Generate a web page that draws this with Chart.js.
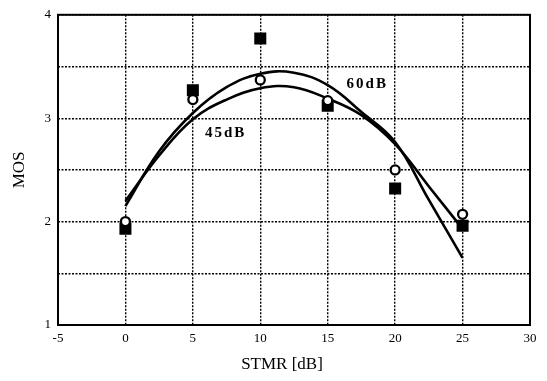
<!DOCTYPE html>
<html>
<head>
<meta charset="utf-8">
<script src="https://cdn.jsdelivr.net/npm/chart.js@4"></script>
<style>
    html, body { margin: 0; padding: 0; background: #ffffff; }
    #wrap { width: 547px; height: 381px; }
</style>
</head>
<body>
<div id="wrap"><canvas id="mos-chart" width="547" height="381"></canvas></div>
<script>

//
// Measured points (STMR in dB, MOS).
//
const stmr_points = [0, 5, 10, 15, 20, 25];
const mos_60db_points = [1.93, 3.27, 3.77, 3.12, 2.32, 1.96];  // filled squares
const mos_45db_points = [2.00, 3.18, 3.37, 3.17, 2.50, 2.07];  // open circles

//
// Fitted curves.
//
const stmr_curve = [0, 2.5, 5, 7.5, 10, 12.5, 15, 17.5, 20, 22.5, 25];
const mos_60db_curve = [2.15, 2.68, 3.05, 3.30, 3.43, 3.44, 3.32, 3.06, 2.77, 2.21, 1.65];
const mos_45db_curve = [2.20, 2.64, 2.99, 3.18, 3.29, 3.30, 3.19, 3.03, 2.75, 2.34, 1.93];

//
// Curve names and where they sit (data units).
//
const curve_names = ["45dB", "60dB"];
const curve_name_x = [5.9, 16.4];
const curve_name_y = [2.86, 3.33];

const x_title = "STMR [dB]";
const y_title = "MOS";

const serif = "'Liberation Serif', 'DejaVu Serif', serif";


/**
* Zip two arrays into {x, y} points.
*/
function toPoints(xs, ys) {

    var retval = [];
    xs.forEach( (value, key) => {
        retval.push({x: value, y: ys[key]});
        });

    return(retval);

} // End of toPoints()


/**
* Plugin: solid frame round the plot, curve names and the x-axis title.
*/
const framePlugin = {
    id: "frame",
    afterDraw(chart) {

        var ctx = chart.ctx;
        var area = chart.chartArea;
        var xs = chart.scales.x;
        var ys = chart.scales.y;

        ctx.save();
        ctx.strokeStyle = "#000";
        ctx.lineWidth = 2;
        ctx.strokeRect(area.left, area.top, area.right - area.left, area.bottom - area.top);

        // Curve names
        ctx.fillStyle = "#000";
        ctx.font = "bold 15px " + serif;
        ctx.letterSpacing = "2px";
        ctx.textAlign = "left";
        ctx.textBaseline = "middle";
        curve_names.forEach( (name, key) => {
            ctx.fillText(name, xs.getPixelForValue(curve_name_x[key]), ys.getPixelForValue(curve_name_y[key]));
            });

        // X-axis title, a little left of the plot centre like the original
        ctx.letterSpacing = "0px";
        ctx.font = "17px " + serif;
        ctx.textAlign = "center";
        ctx.fillText(x_title, 282, 365);
        ctx.restore();

    }
};


/**
* Build and draw the chart.
*/
function drawChart() {

    var data = {
        datasets: [
            {
                label: "45dB measured",
                data: toPoints(stmr_points, mos_45db_points),
                pointStyle: "circle",
                pointRadius: 4.5,
                pointBorderWidth: 2.3,
                pointBorderColor: "#000",
                pointBackgroundColor: "#fff",
                showLine: false,
            },
            {
                label: "60dB measured",
                data: toPoints(stmr_points, mos_60db_points),
                pointStyle: "rect",
                pointRadius: 8.5,
                pointBorderWidth: 0,
                pointBorderColor: "#000",
                pointBackgroundColor: "#000",
                showLine: false,
            },
            {
                label: "60dB fit",
                data: toPoints(stmr_curve, mos_60db_curve),
                showLine: true,
                borderColor: "#000",
                borderWidth: 2.6,
                pointRadius: 0,
                tension: 0.4,
            },
            {
                label: "45dB fit",
                data: toPoints(stmr_curve, mos_45db_curve),
                showLine: true,
                borderColor: "#000",
                borderWidth: 2.6,
                pointRadius: 0,
                tension: 0.4,
            },
            ],
        };

    var grid = {
        color: "#000",
        lineWidth: 1.4,
        drawTicks: false,
        };

    var options = {
        responsive: false,
        animation: false,
        layout: {
            padding: {left: 0, right: 17, top: 14, bottom: 0},
            },
        plugins: {
            legend: {display: false},
            tooltip: {enabled: false},
            },
        scales: {
            x: {
                type: "linear",
                min: -5,
                max: 30,
                grid: grid,
                border: {display: false, dash: [2, 1.5]},
                ticks: {
                    stepSize: 5,
                    padding: 6,
                    color: "#000",
                    font: {family: serif, size: 13},
                    },
                afterFit(scale) {
                    scale.height = 56;
                    },
                },
            y: {
                type: "linear",
                min: 1,
                max: 4,
                grid: grid,
                border: {display: false, dash: [2, 1.5]},
                ticks: {
                    stepSize: 0.5,
                    padding: 7,
                    color: "#000",
                    font: {family: serif, size: 13},
                    // Only the whole numbers carry a label.
                    callback: (value) => Number.isInteger(value) ? value : "",
                    },
                title: {
                    display: true,
                    text: y_title,
                    color: "#000",
                    font: {family: serif, size: 17},
                    padding: {top: 9, bottom: 0},
                    },
                afterFit(scale) {
                    scale.width = 58;
                    },
                },
            },
        };

    var canvas = document.getElementById("mos-chart").getContext("2d");
    window.chart = new Chart(canvas, {
        type: "scatter",
        data: data,
        options: options,
        plugins: [framePlugin],
        });

} // End of drawChart()


drawChart();

</script>
</body>
</html>
